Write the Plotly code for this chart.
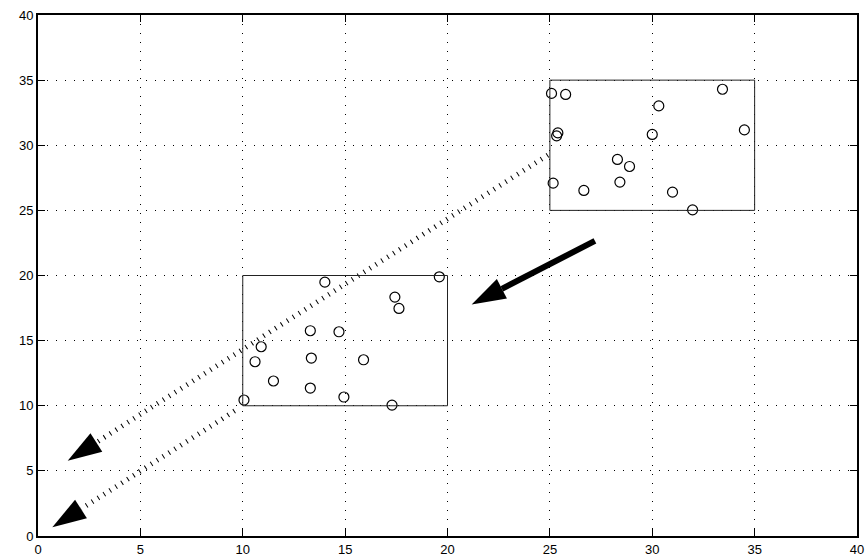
import math
import plotly.graph_objects as go

# ---- data ----
upper_x = [25.08, 25.77, 33.43, 30.32, 25.39, 25.33, 30.00, 34.50, 28.30, 28.89, 25.16, 26.66, 28.42, 30.99, 31.97]
upper_y = [33.98, 33.90, 34.30, 33.02, 30.95, 30.72, 30.83, 31.18, 28.91, 28.37, 27.09, 26.53, 27.17, 26.40, 25.04]
lower_x = [19.60, 14.01, 17.43, 17.63, 13.30, 14.70, 10.90, 10.60, 13.35, 15.90, 11.50, 13.30, 14.94, 10.06, 17.29]
lower_y = [19.90, 19.49, 18.34, 17.47, 15.76, 15.68, 14.53, 13.38, 13.66, 13.53, 11.90, 11.36, 10.67, 10.44, 10.05]

box_x0 = [10, 25]
box_y0 = [10, 25]
box_x1 = [20, 35]
box_y1 = [20, 35]

dotted_tail_x = [24.9, 9.6]
dotted_tail_y = [29.25, 9.6]
dotted_tip_x = [1.45, 0.70]
dotted_tip_y = [5.78, 0.67]

solid_tail_x = [27.2]
solid_tail_y = [22.66]
solid_tip_x = [21.18]
solid_tip_y = [17.78]

x_ticks = [0, 5, 10, 15, 20, 25, 30, 35, 40]
y_ticks = [0, 5, 10, 15, 20, 25, 30, 35, 40]

# ---- layout geometry ----
W, H = 867, 556
ML, MR, MT, MB = 38, 10, 15, 20
XR = [0, 40]
YR = [0, 40]
sx = (W - ML - MR) / (XR[1] - XR[0])
sy = (H - MT - MB) / (YR[1] - YR[0])

HEAD_LEN = 34
HEAD_W = 22


def head(tail, tip):
    dx = (tip[0] - tail[0]) * sx
    dy = (tip[1] - tail[1]) * sy
    n = math.hypot(dx, dy)
    ux, uy = dx / n, dy / n
    px, py = -uy, ux
    bx = -ux * HEAD_LEN
    by = -uy * HEAD_LEN
    base = (tip[0] + bx / sx, tip[1] + by / sy)
    c1 = (tip[0] + (bx + px * HEAD_W / 2) / sx, tip[1] + (by + py * HEAD_W / 2) / sy)
    c2 = (tip[0] + (bx - px * HEAD_W / 2) / sx, tip[1] + (by - py * HEAD_W / 2) / sy)
    path = f"M{tip[0]},{tip[1]} L{c1[0]},{c1[1]} L{c2[0]},{c2[1]} Z"
    return path, base


fig = go.Figure()
shapes = []

for x0, y0, x1, y1 in zip(box_x0, box_y0, box_x1, box_y1):
    shapes.append(dict(type="rect", xref="x", yref="y", x0=x0, y0=y0, x1=x1, y1=y1,
                       line=dict(color="#222", width=1), layer="above"))

for tx, ty, hx, hy in zip(dotted_tail_x, dotted_tail_y, dotted_tip_x, dotted_tip_y):
    path, base = head((tx, ty), (hx, hy))
    fig.add_trace(go.Scatter(x=[tx, base[0]], y=[ty, base[1]], mode="lines",
                             line=dict(color="black", width=5, dash="1px,6px"),
                             hoverinfo="skip", showlegend=False))
    shapes.append(dict(type="path", xref="x", yref="y", path=path,
                       fillcolor="black", line=dict(width=0), layer="above"))

for tx, ty, hx, hy in zip(solid_tail_x, solid_tail_y, solid_tip_x, solid_tip_y):
    path, base = head((tx, ty), (hx, hy))
    fig.add_trace(go.Scatter(x=[tx, base[0]], y=[ty, base[1]], mode="lines",
                             line=dict(color="black", width=6),
                             hoverinfo="skip", showlegend=False))
    shapes.append(dict(type="path", xref="x", yref="y", path=path,
                       fillcolor="black", line=dict(width=0), layer="above"))

fig.add_trace(go.Scatter(x=upper_x + lower_x, y=upper_y + lower_y, mode="markers",
                         marker=dict(symbol="circle-open", size=10,
                                     line=dict(color="black", width=1.2), color="black"),
                         showlegend=False))

axis_common = dict(
    showline=True, linecolor="black", linewidth=2, mirror="ticks",
    ticks="inside", ticklen=7, tickcolor="black", tickwidth=1,
    showgrid=True, gridcolor="black", gridwidth=1, griddash="1px,8px",
    zeroline=False, automargin=False,
    tickfont=dict(family="Liberation Sans, Arial", size=13, color="black"),
)

fig.update_xaxes(range=XR, tickvals=x_ticks, ticktext=[str(v) for v in x_ticks],
                 ticklabelstandoff=0, **axis_common)
fig.update_yaxes(range=YR, tickvals=y_ticks, ticktext=[str(v) for v in y_ticks], **axis_common)

fig.update_layout(
    width=W, height=H, autosize=False,
    margin=dict(l=ML, r=MR, t=MT, b=MB, pad=0),
    plot_bgcolor="white", paper_bgcolor="white",
    shapes=shapes, showlegend=False,
)

fig.write_html("out.html", config={"displayModeBar": False},
               post_script="document.body.style.margin='0';document.body.style.overflow='hidden';")
